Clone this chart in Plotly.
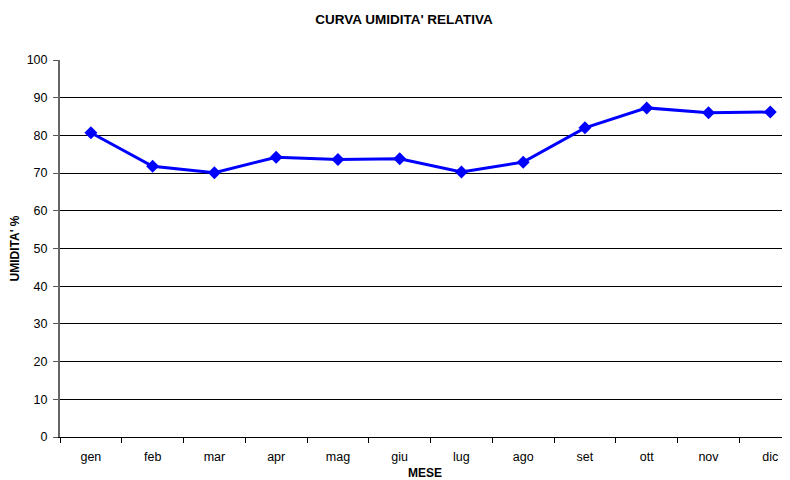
import plotly.graph_objects as go

# ─── Data ────────────────────────────────────────────────────────────────────
MESI = ["gen", "feb", "mar", "apr", "mag", "giu",
        "lug", "ago", "set", "ott", "nov", "dic"]
UMIDITA = [80.7, 71.8, 70.1, 74.2, 73.6, 73.8,
           70.3, 72.9, 82.0, 87.3, 86.0, 86.2]
Y_TICKS = list(range(0, 101, 10))

FONT = "'Liberation Sans', Arial, sans-serif"

# page body has an 8px margin, so the figure is sized to fit the window
W, H = 782, 472

fig = go.Figure()
fig.add_trace(go.Scatter(
    x=MESI, y=UMIDITA,
    mode="lines+markers",
    line=dict(color="#0000ff", width=3),
    marker=dict(symbol="diamond", size=10, color="#0000ff"),
    showlegend=False,
))

fig.update_layout(
    width=W, height=H,
    paper_bgcolor="white", plot_bgcolor="white",
    font=dict(family=FONT, size=12.5, color="black"),
    margin=dict(l=52, r=0, t=52, b=43),
    title=dict(
        text="<b>CURVA UMIDITA' RELATIVA</b>",
        x=396 / W, xanchor="center", xref="container",
        y=1 - 11 / H, yanchor="middle", yref="container",
        font=dict(size=13.5, color="black"),
    ),
)

fig.update_xaxes(
    type="category",
    range=[-0.5, 11.32],
    automargin=False,
    tickson="boundaries",
    ticks="outside", ticklen=5, tickcolor="black",
    ticklabelstandoff=8,
    showline=True, linecolor="black", linewidth=1,
    showgrid=False, zeroline=False,
    title=dict(text="<b>MESE</b>", standoff=11, font=dict(size=12)),
)

fig.update_yaxes(
    range=[0, 100],
    tickvals=Y_TICKS,
    automargin=False,
    ticks="outside", ticklen=5, tickcolor="#555",
    ticklabelstandoff=3,
    showline=True, linecolor="#666", linewidth=2,
    showgrid=True, gridcolor="black", gridwidth=1,
    zeroline=False,
    title=dict(text="<b>UMIDITA' %</b>", standoff=8, font=dict(size=12)),
)

fig.write_html("out.html")
